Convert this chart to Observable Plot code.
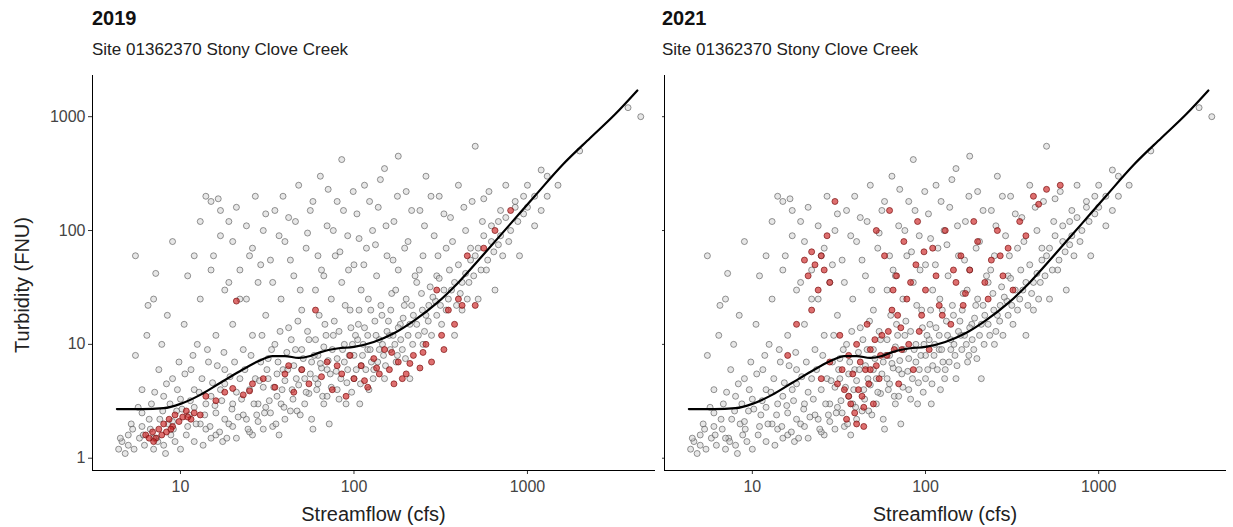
<!DOCTYPE html>
<html><head><meta charset="utf-8">
<script src="https://cdn.jsdelivr.net/npm/d3@7"></script>
<script src="https://cdn.jsdelivr.net/npm/@observablehq/plot@0.6"></script>
<style>
body{margin:0;background:#fff;font-family:"Liberation Sans",Arial,sans-serif;}
#wrap{display:flex;width:1233px;}
.panel{position:relative;}
.t{position:absolute;font-size:20px;font-weight:bold;color:#111;top:7px;}
.s{position:absolute;font-size:17px;color:#222;top:40px;}
</style></head><body>
<div id="wrap"><div class="panel" id="p1"></div><div class="panel" id="p2"></div></div>
<script>
const panelTitles=["2019","2021"];
const subtitle="Site 01362370 Stony Clove Creek";
const xTicks=[10,100,1000];
const yTicks=[1,10,100,1000];
// background (all-years) observations [streamflow, turbidity]
const grayPts=[
[4.4,1.2],[4.6,1.4],[4.8,1.1],[5,1.3],[5,1.6],[5.2,2],[5.4,1.2],[5.5,8],[5.5,60],[5.8,1.5],[6,2.5],[6,4],[6.2,1.3],[6.4,12],[6.5,22],[6.7,1.8],[6.8,3],[7,1.2],[7,25],[7.2,42],[7.3,1.5],[7.5,6],[7.6,2.2],[7.8,10],[8,1.3],[8,3.5],[8.2,1.1],[8.4,18],[8.5,2],[8.8,1.6],[9,5],[9,80],[9.3,1.4],[9.5,2.6],[9.8,7],[10,1.2],[10,3.3],[10.5,15],[10.8,1.6],[11,40],[11.2,2.4],[11.5,6],[12,1.4],[12,4],[12.5,10],[13,2],[13,25],[13.5,1.3],[14,3],[14,200],[14.5,7],[15,1.5],[15,180],[15.5,60],[16,2.5],[16,12],[16.5,190],[17,4],[17,150],[17.5,1.4],[18,30],[18,6],[19,2],[19,120],[20,3],[20,15],[20,80],[21,1.5],[22,5],[22,45],[23,9],[24,2.2],[24,25],[25,60],[25,4],[26,1.6],[26,12],[27,200],[28,3],[28,35],[29,7],[30,100],[30,1.8],[31,18],[32,5],[33,2.5],[33,55],[35,150],[35,10],[36,3.5],[37,1.6],[38,25],[39,6],[40,80],[40,2.2],[42,130],[42,14],[44,4],[45,40],[46,9],[47,2.6],[48,250],[50,20],[50,6],[52,3],[53,70],[55,11],[56,150],[58,1.8],[60,30],[60,5],[62,8],[64,300],[65,45],[66,3.5],[68,15],[70,110],[70,6],[72,2],[74,25],[75,9],[78,60],[80,4],[80,180],[82,13],[85,420],[85,35],[88,7],[90,3],[92,90],[95,20],[98,10],[100,5],[100,50],[104,140],[106,15],[108,3],[110,30],[112,8],[115,250],[118,70],[120,12],[122,4],[125,20],[128,100],[130,6],[135,40],[138,160],[140,9],[145,18],[150,350],[150,5],[155,60],[160,12],[165,28],[170,120],[175,7],[180,450],[180,45],[185,15],[190,9],[200,220],[200,25],[205,80],[210,5],[220,18],[230,35],[240,150],[250,10],[250,60],[260,300],[270,22],[280,12],[290,90],[300,40],[310,200],[320,15],[340,70],[350,25],[360,130],[380,12],[400,250],[400,50],[420,20],[440,100],[460,35],[480,180],[500,550],[500,60],[520,25],[550,120],[580,45],[600,220],[620,80],[650,30],[700,150],[720,60],[750,250],[800,100],[850,180],[900,60],[950,140],[1000,250],[1100,110],[1200,340],[1300,200],[1500,250],[2000,500],[3800,1200],[4500,1000],
[6,1.9],[7,1.5],[9,2.1],[11,1.9],[12,2.8],[14,1.8],[15,3.5],[16,1.6],[18,2.2],[18,4.5],[20,1.9],[21,3.8],[23,2.4],[25,1.7],[27,5],[28,2.1],[30,4.2],[31,2.8],[32,7.5],[34,1.9],[36,5.5],[38,3],[40,4.8],[41,8.5],[43,2.6],[45,6.5],[48,4.4],[50,9],[52,5],[55,3.7],[57,7],[60,11],[62,4.5],[65,6.2],[67,9.5],[70,3.5],[73,5.5],[76,12],[80,7.5],[84,5],[88,10],[92,6],[96,14],[100,8],[105,11],[110,6.5],[115,14],[120,9],[126,7],[132,16],[140,11],[148,8],[155,13],[163,20],[172,10],[180,14],[192,17],[205,12],[215,22],[230,15],[245,28],[260,18],[275,32],[295,24],[310,38],[330,30],[355,45],[380,35],[410,28],[440,42],[470,55],[520,70],[560,90],[620,110],[680,75],[750,130],[850,160],[950,200],[1200,150],[1300,300],
[4.5,1.5],[5.3,1.8],[5.7,2.8],[6.1,1.6],[6.6,2.2],[7.1,3.8],[7.4,1.4],[7.9,2.6],[8.3,4.5],[8.7,3],[9.1,1.8],[9.6,4],[10.2,2.7],[10.6,5.5],[11.4,3.2],[11.8,8],[12.3,2],[12.8,3.8],[13.3,5],[13.8,2.4],[14.3,9],[14.8,1.9],[15.3,4.6],[15.8,2.9],[16.3,6.5],[16.8,1.7],[17.3,3.2],[17.8,8.5],[18.5,1.5],[19.3,5.2],[19.8,2.7],[20.5,7],[21.5,2.3],[22.5,3.3],[23.5,6],[24.5,1.8],[25.5,8],[26.5,3],[27.5,2.4],[28.5,4.8],[29.5,12],[30.5,2.5],[31.5,6],[32.5,3.2],[33.5,9],[34.5,4.2],[35.5,2],[36.5,7],[37.5,13],[38.5,4],[39.5,2.8],[41.5,6],[43.5,11],[44.5,3.3],[46.5,5],[47.5,16],[49,2.4],[51,7.5],[53,3.8],[54,13],[56,5.5],[57,2.2],[59,8],[61,4],[63,18],[64,6.8],[67,3],[69,12],[71,7.2],[74,4.2],[77,16],[79,5.8],[82,3.3],[86,9],[89,22],[91,4.6],[94,8],[97,3.8],[102,12],[103,6],[107,20],[109,4.5],[113,10],[117,6],[121,25],[124,9],[129,5],[134,12],[137,7],[143,22],[146,10],[152,6.5],[158,16],[162,9],[168,12],[174,30],[178,8],[186,11],[195,22],[198,7.5],[210,15],[218,10],[225,40],[235,12],[248,20],[255,13],[268,16],[285,26],[300,18],[315,22],[340,20],[365,30],[390,22],[420,35],[450,25],[490,40],[540,45],[590,55],[640,65],[700,90],[780,80],[880,120],[1000,160],[1100,200],
[12,60],[13,120],[15,45],[17,90],[19,35],[21,160],[22,25],[24,110],[26,70],[29,50],[31,140],[34,35],[37,90],[39,200],[43,55],[46,120],[49,30],[54,95],[58,180],[62,60],[67,40],[71,230],[76,100],[83,65],[87,150],[93,45],[99,220],[107,85],[114,50],[123,180],[133,75],[142,280],[153,110],[168,55],[178,200],[196,70],[215,150],[238,45],[255,110],[278,200],[305,60],[330,140],[370,80],[430,160],[470,70],[560,190],[680,120]
];
const red2019=[
[6.3,1.6],[6.6,1.5],[6.9,1.7],[7.2,1.5],[7.5,1.8],[7.8,1.6],[8,2],[8.3,1.7],[8.6,2.2],[9,1.9],[9.3,2.4],[9.8,2.1],[10.3,2.3],[10.8,2.6],[11.5,2.2],[12,2.5],[13,2.4],[14,3.5],[16,3.2],[18,3.8],[20,4.1],[21,24],[23,3.6],[26,4.5],[30,5],[35,4.2],[40,5.5],[45,3.8],[50,6],[55,4.5],[60,20],[65,5.2],[70,7],[75,4],[80,6.5],[90,3.5],[95,8],[100,5],[110,6.5],[120,4.2],[130,7.5],[140,5.5],[150,9],[160,6],[170,4.5],[180,7],[200,5.5],[220,8],[240,6.2],[260,10],[280,7],[300,30],[320,12],[350,20],[400,25],[450,60],[500,22],[560,70],[650,100],[800,150],
[7,1.4],[8.8,1.8],[11,2.3],[25,3.9],[42,6.5],[85,5.5],[115,4.8],[135,6.2],[165,8.5],[190,5],[210,6.8],[250,8.5],[330,9],[380,15],[420,22]
];
const red2021=[
[20,55],[21,40],[22,65],[23,50],[24,30],[25,60],[26,45],[27,90],[28,35],[30,180],[32,12],[33,6],[34,4],[35,2.2],[36,8],[37,3],[38,5.5],[39,2.5],[40,10],[41,4],[42,7],[43,3.5],[44,1.9],[45,6],[46,15],[47,4.5],[48,9],[50,3],[52,100],[52,6.5],[54,5],[56,12],[58,60],[60,8],[62,150],[64,20],[66,9],[68,40],[70,4.5],[72,14],[75,80],[78,25],[80,10],[85,6],[88,50],[90,120],[95,18],[100,30],[105,9],[110,70],[115,40],[120,22],[130,100],[140,15],[150,35],[160,60],[170,28],[180,45],[200,80],[220,35],[240,55],[260,100],[280,40],[300,70],[350,120],[420,200],[450,170],[500,230],[600,250],
[16,8],[18,15],[22,20],[25,5],[28,7],[31,4.5],[36,3.5],[40,2],[44,2.8],[48,6],[51,11],[55,8],[61,13],[65,30],[69,18],[73,9],[82,35],[92,13],[98,65],[125,18],[145,45],[165,22],[190,120],[230,25],[270,60],[320,30],[380,90]
];
// smoothed trend (same in both panels)
const trendX=[4.3,6,8,10,13,17,22,28,34,40,48,56,65,80,100,130,170,220,300,400,550,800,1100,1600,2300,3200,4300];
const trendY=[2.7,2.7,2.75,3.0,3.6,4.6,5.8,7.1,7.9,7.9,7.6,7.9,8.6,9.2,9.5,10.5,12.5,16,23,35,60,115,200,380,650,1050,1700];
const trend=trendX.map((x,i)=>({x,y:trendY[i]}));
const gray=grayPts.map(([x,y])=>({x,y}));
const reds=[red2019,red2021].map(a=>a.map(([x,y])=>({x,y})));

function make(idx){
  const left=idx===0;
  const W=left?662:571, ML=left?92:2;
  const plot=Plot.plot({
    width:W,height:462,marginLeft:ML,marginRight:8,marginTop:10,marginBottom:57,
    style:{fontFamily:"Liberation Sans, Arial, sans-serif",fontSize:"15px",color:"#444",background:"#fff"},
    x:{type:"log",domain:[3.11,5400],ticks:xTicks,tickFormat:d=>String(d)},
    y:{type:"log",domain:[0.78,2300],ticks:yTicks,tickFormat:d=>String(d)},
    marks:[
      Plot.dot(gray,{x:"x",y:"y",r:3,fill:"#d0d0d0",fillOpacity:0.5,stroke:"#444",strokeWidth:0.7,strokeOpacity:0.8}),
      Plot.dot(reds[idx],{x:"x",y:"y",r:3,fill:"#cc2222",fillOpacity:0.65,stroke:"#7a1010",strokeWidth:0.7}),
      Plot.line(trend,{x:"x",y:"y",stroke:"#000",strokeWidth:2.2,curve:"monotone-x"}),
      Plot.axisX({ticks:xTicks,tickFormat:d=>String(d),tickSize:4,stroke:"#333",fontSize:16,tickPadding:6,label:null}),
      Plot.axisY({ticks:yTicks,tickFormat:left?(d=>String(d)):(()=>""),tickSize:4,stroke:"#333",fontSize:16,tickPadding:3,label:null}),
      Plot.frame({anchor:"left",stroke:"#000"}),
      Plot.frame({anchor:"bottom",stroke:"#000"}),
      Plot.text(["Streamflow (cfs)"],{frameAnchor:"bottom",dy:50,fontSize:20,fill:"#222"})
    ]
  });
  const el=document.getElementById(left?"p1":"p2");
  el.style.width=W+"px";
  el.style.paddingTop="65px";
  el.innerHTML=`<div class="t" style="left:${left?92:0}px">${panelTitles[idx]}</div><div class="s" style="left:${left?92:0}px">${subtitle}</div>`;
  el.appendChild(plot);
  if(left){
    const yl=document.createElement("div");
    yl.textContent="Turbidity (FNU)";
    yl.style.cssText="position:absolute;left:22px;top:285px;transform:translate(-50%,-50%) rotate(-90deg);font-size:20px;color:#222;white-space:nowrap";
    el.appendChild(yl);
  }
}
make(0);make(1);
</script></body></html>
